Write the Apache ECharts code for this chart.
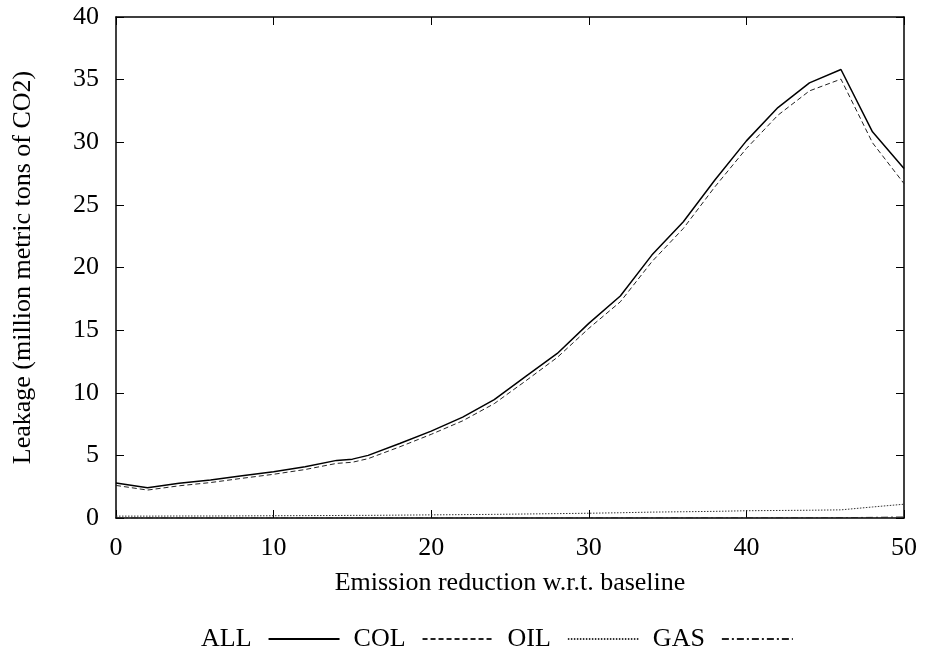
<!DOCTYPE html>
<html>
<head>
<meta charset="utf-8">
<script src="https://cdn.jsdelivr.net/npm/echarts@6/dist/echarts.min.js"></script>
<style>
  html, body { margin: 0; padding: 0; background: #fff; }
  #first { width: 928px; height: 653px; }
</style>
</head>
<body>
<div id="first"></div>
<script>
// emission reduction (x) and leakage values
var reduction = [0, 2, 4, 6, 8, 10, 12, 14, 15, 16, 18, 20, 22, 24, 26, 28, 30, 32, 34, 36, 38, 40, 42, 44, 46, 48, 50];
var allData = [2.8, 2.42, 2.77, 3.03, 3.38, 3.7, 4.1, 4.6, 4.7, 5.0, 5.95, 6.94, 8.05, 9.45, 11.3, 13.14, 15.54, 17.72, 20.99, 23.65, 26.98, 30.11, 32.77, 34.74, 35.81, 30.83, 27.9];
var colData = [2.6, 2.23, 2.57, 2.83, 3.17, 3.49, 3.87, 4.36, 4.45, 4.74, 5.68, 6.68, 7.76, 9.13, 10.95, 12.82, 15.14, 17.26, 20.46, 23.12, 26.44, 29.5, 32.16, 34.1, 35.04, 29.96, 26.7];
var oilData = [0.15, 0.15, 0.16, 0.16, 0.17, 0.18, 0.19, 0.2, 0.21, 0.21, 0.23, 0.25, 0.27, 0.29, 0.32, 0.35, 0.38, 0.42, 0.47, 0.5, 0.53, 0.58, 0.6, 0.62, 0.65, 0.88, 1.1];
var gasData = [0, 0, 0, 0, 0, 0, 0, 0, 0, 0, 0, 0, 0, 0, 0, 0, 0.01, 0.01, 0.01, 0.01, 0.02, 0.02, 0.02, 0.02, 0.03, 0.05, 0.08];

function pairs(ys) {
    var out = [];
    for (var i = 0; i < reduction.length; i++) {
        out.push([reduction[i], ys[i]]);
    }
    return out;
}

var font = 'Liberation Serif';
var frame = { show: true, onZero: false, lineStyle: { color: '#000', width: 1.5 } };
var tick = { show: true, inside: true, length: 8, lineStyle: { color: '#000', width: 1 } };

var chart = echarts.init(document.getElementById('first'));

var option = {
    animation: false,
    backgroundColor: '#fff',
    textStyle: { fontFamily: font, color: '#000' },
    grid: { left: 116, right: 24, top: 17, bottom: 135 },
    legend: {
        left: 196,
        top: 621,
        align: 'right',
        itemWidth: 71,
        itemHeight: 14,
        itemGap: 13,
        itemStyle: { opacity: 0 }, // hide the symbol dot, keep the line sample
        textStyle: { fontFamily: font, fontSize: 26, color: '#000', padding: [0, 12, 0, 0] },
        data: ['ALL', 'COL', 'OIL', 'GAS']
    },
    xAxis: [{
        type: 'value',
        min: 0, max: 50, interval: 10,
        position: 'bottom',
        name: 'Emission reduction w.r.t. baseline',
        nameLocation: 'middle',
        nameGap: 52,
        nameTextStyle: { fontFamily: font, fontSize: 26, color: '#000' },
        axisLine: frame,
        axisTick: tick,
        axisLabel: { fontFamily: font, fontSize: 26, color: '#000', margin: 17 },
        splitLine: { show: false }
    }, {
        type: 'value',
        min: 0, max: 50, interval: 10,
        position: 'top',
        axisLine: frame,
        axisTick: tick,
        axisLabel: { show: false },
        splitLine: { show: false }
    }],
    yAxis: [{
        type: 'value',
        min: 0, max: 40, interval: 5,
        position: 'left',
        name: 'Leakage (million metric tons of CO2)',
        nameLocation: 'middle',
        nameGap: 80,
        nameTextStyle: { fontFamily: font, fontSize: 26, color: '#000' },
        axisLine: frame,
        axisTick: tick,
        axisLabel: { fontFamily: font, fontSize: 26, color: '#000', margin: 17 },
        splitLine: { show: false }
    }, {
        type: 'value',
        min: 0, max: 40, interval: 5,
        position: 'right',
        axisLine: frame,
        axisTick: tick,
        axisLabel: { show: false },
        splitLine: { show: false }
    }],
    series: [{
        name: 'ALL',
        type: 'line',
        symbol: 'none',
        lineStyle: { color: '#000', width: 1.5, type: 'solid' },
        itemStyle: { color: '#000' },
        data: pairs(allData)
    }, {
        name: 'COL',
        type: 'line',
        symbol: 'none',
        lineStyle: { color: '#222', width: 1, type: [5, 3] },
        itemStyle: { color: '#222' },
        data: pairs(colData)
    }, {
        name: 'OIL',
        type: 'line',
        symbol: 'none',
        lineStyle: { color: '#333', width: 1, type: [1.5, 1.5] },
        itemStyle: { color: '#333' },
        data: pairs(oilData)
    }, {
        name: 'GAS',
        type: 'line',
        symbol: 'none',
        lineStyle: { color: '#222', width: 1, type: [7, 3, 2, 3] },
        itemStyle: { color: '#222' },
        data: pairs(gasData)
    }]
};

chart.setOption(option);
</script>
</body>
</html>
